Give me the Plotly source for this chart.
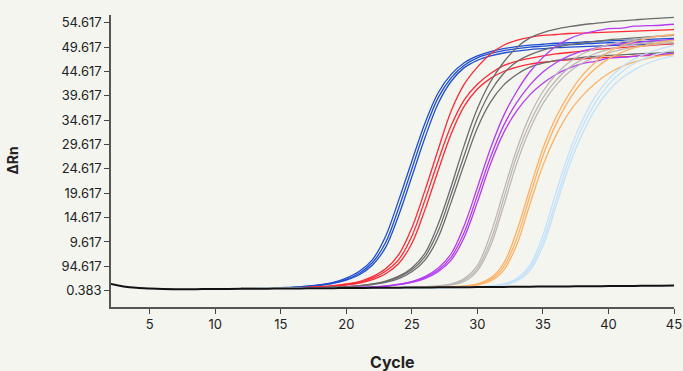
import plotly.graph_objects as go

# ---- data -------------------------------------------------------------
cycles_bg = list(range(2, 46))
baseline = [1.0, 0.5, 0.2, 0.05, -0.05, -0.08, -0.08, -0.06, -0.04, -0.02,
            0.0, 0.02, 0.04, 0.06, 0.08, 0.1, 0.12, 0.14, 0.16, 0.18,
            0.2, 0.22, 0.24, 0.26, 0.28, 0.3, 0.32, 0.34, 0.36, 0.38,
            0.4, 0.42, 0.44, 0.46, 0.48, 0.5, 0.52, 0.54, 0.56, 0.58,
            0.6, 0.62, 0.64, 0.66]

cycles = list(range(12, 46))  # 34 cycles

blue_1 = [0.1, 0.12, 0.15, 0.25, 0.33, 0.55, 0.85, 1.3, 2.2, 3.6, 6.0, 10.8, 18.2, 26.2, 34.0, 40.2, 44.0, 46.4, 47.8, 48.7, 49.3, 49.7, 50.0, 50.2, 50.4, 50.5, 50.65, 50.8, 50.9, 51.0, 51.1, 51.2, 51.3, 51.4]
blue_2 = [0.1, 0.12, 0.15, 0.22, 0.3, 0.5, 0.78, 1.2, 1.95, 3.2, 5.4, 9.5, 16.6, 24.6, 32.6, 39.2, 43.3, 45.9, 47.4, 48.3, 48.9, 49.3, 49.6, 49.8, 50.0, 50.1, 50.25, 50.4, 50.5, 50.6, 50.7, 50.8, 50.9, 51.0]
blue_3 = [0.1, 0.12, 0.15, 0.2, 0.28, 0.45, 0.72, 1.1, 1.8, 2.9, 4.9, 8.5, 15.1, 23.0, 31.0, 38.0, 42.6, 45.4, 46.9, 47.8, 48.4, 48.8, 49.1, 49.3, 49.5, 49.6, 49.7, 49.8, 49.9, 50.0, 50.1, 50.2, 50.3, 50.4]

red_1 = [0.1, 0.12, 0.15, 0.2, 0.25, 0.3, 0.45, 0.65, 1.0, 1.5, 2.5, 4.1, 7.0, 12.5, 20.2, 28.5, 36.5, 42.0, 45.5, 48.2, 50.0, 51.0, 51.6, 52.0, 52.2, 52.4, 52.5, 52.6, 52.7, 52.8, 52.9, 53.0, 53.1, 53.2]
red_2 = [0.1, 0.12, 0.15, 0.18, 0.22, 0.28, 0.4, 0.6, 0.9, 1.35, 2.2, 3.6, 6.0, 10.8, 18.2, 26.2, 33.5, 38.8, 42.0, 44.2, 45.8, 46.7, 47.3, 47.8, 48.2, 48.5, 48.8, 49.1, 49.3, 49.5, 49.7, 49.9, 50.1, 50.3]
red_3 = [0.1, 0.12, 0.14, 0.17, 0.2, 0.25, 0.35, 0.5, 0.78, 1.15, 1.9, 3.1, 5.2, 9.3, 16.2, 24.2, 31.8, 37.5, 41.0, 43.2, 44.6, 45.5, 46.1, 46.5, 46.8, 47.0, 47.2, 47.4, 47.5, 47.6, 47.75, 47.85, 48.0, 48.1]

dgrey_1 = [0.1, 0.11, 0.13, 0.15, 0.17, 0.2, 0.25, 0.35, 0.4, 0.65, 1.0, 1.6, 2.6, 4.3, 7.3, 13.2, 21.0, 29.5, 37.0, 42.5, 46.5, 49.5, 51.5, 52.6, 53.3, 53.8, 54.2, 54.5, 54.8, 55.0, 55.2, 55.4, 55.55, 55.7]
dgrey_2 = [0.1, 0.11, 0.13, 0.15, 0.17, 0.2, 0.25, 0.32, 0.43, 0.6, 0.95, 1.45, 2.4, 3.9, 6.6, 11.8, 19.4, 27.4, 35.0, 40.5, 44.2, 46.6, 48.0, 49.0, 49.6, 50.1, 50.5, 50.8, 51.1, 51.3, 51.5, 51.7, 51.85, 52.0]
dgrey_3 = [0.1, 0.11, 0.12, 0.14, 0.16, 0.18, 0.22, 0.3, 0.4, 0.55, 0.88, 1.3, 2.1, 3.5, 5.9, 10.5, 17.8, 25.6, 33.0, 38.3, 41.8, 44.0, 45.5, 46.3, 46.9, 47.2, 47.5, 47.7, 47.9, 48.0, 48.2, 48.3, 48.45, 48.6]

purple_1 = [0.1, 0.11, 0.12, 0.13, 0.15, 0.17, 0.18, 0.2, 0.25, 0.3, 0.4, 0.6, 0.95, 1.5, 2.5, 4.2, 7.2, 13.0, 20.8, 28.8, 35.5, 40.5, 44.5, 47.5, 49.8, 51.3, 52.3, 52.9, 53.4, 53.5, 53.9, 54.0, 54.1, 54.3]
purple_2 = [0.1, 0.11, 0.12, 0.13, 0.14, 0.16, 0.17, 0.18, 0.22, 0.28, 0.36, 0.55, 0.9, 1.4, 2.3, 3.8, 6.5, 11.6, 19.2, 27.0, 33.5, 38.2, 41.8, 44.5, 46.4, 47.8, 48.8, 49.4, 50.0, 50.3, 50.5, 50.8, 51.0, 51.2]
purple_3 = [0.1, 0.11, 0.12, 0.13, 0.14, 0.15, 0.16, 0.17, 0.2, 0.26, 0.34, 0.5, 0.85, 1.3, 2.1, 3.5, 5.9, 10.6, 17.8, 25.6, 32.0, 36.5, 39.8, 42.2, 44.0, 45.3, 46.2, 46.7, 47.3, 47.5, 47.7, 48.0, 48.15, 48.3]

lgrey_1 = [0.1, 0.11, 0.12, 0.13, 0.14, 0.15, 0.16, 0.17, 0.18, 0.19, 0.2, 0.22, 0.25, 0.3, 0.45, 0.6, 1.0, 2.1, 4.8, 11.2, 20.0, 28.6, 35.5, 40.5, 44.0, 46.5, 48.2, 49.3, 50.1, 50.7, 51.2, 51.6, 51.9, 52.2]
lgrey_2 = [0.1, 0.11, 0.12, 0.13, 0.14, 0.15, 0.16, 0.17, 0.18, 0.19, 0.2, 0.22, 0.25, 0.28, 0.4, 0.55, 0.9, 1.8, 4.2, 9.8, 18.5, 27.2, 34.0, 39.2, 42.8, 45.4, 47.1, 48.3, 49.1, 49.7, 50.2, 50.5, 50.8, 51.0]
lgrey_3 = [0.1, 0.11, 0.12, 0.13, 0.14, 0.15, 0.16, 0.17, 0.18, 0.18, 0.18, 0.2, 0.23, 0.26, 0.35, 0.5, 0.8, 1.5, 3.7, 8.8, 17.0, 25.7, 32.7, 38.0, 41.8, 44.5, 46.3, 47.5, 48.4, 49.1, 49.6, 50.0, 50.3, 50.5]

orange_1 = [0.1, 0.11, 0.12, 0.13, 0.14, 0.15, 0.16, 0.17, 0.18, 0.19, 0.19, 0.2, 0.2, 0.22, 0.25, 0.3, 0.4, 0.6, 1.0, 2.2, 5.2, 11.8, 20.5, 28.8, 35.2, 40.0, 43.8, 46.5, 48.6, 49.9, 50.8, 51.4, 51.9, 52.2]
orange_2 = [0.1, 0.11, 0.12, 0.13, 0.14, 0.15, 0.16, 0.17, 0.18, 0.19, 0.19, 0.2, 0.2, 0.22, 0.24, 0.28, 0.38, 0.55, 0.9, 1.9, 4.5, 10.3, 19.0, 27.3, 33.8, 38.8, 42.5, 45.2, 47.2, 48.5, 49.5, 50.1, 50.6, 51.0]
orange_3 = [0.1, 0.11, 0.12, 0.13, 0.14, 0.15, 0.16, 0.17, 0.17, 0.18, 0.18, 0.18, 0.18, 0.2, 0.23, 0.26, 0.35, 0.5, 0.8, 1.6, 3.8, 9.0, 17.3, 25.3, 31.5, 36.2, 39.6, 42.2, 44.2, 45.6, 46.6, 47.3, 47.8, 48.1]

lblue_1 = [0.1, 0.11, 0.12, 0.13, 0.14, 0.15, 0.16, 0.17, 0.18, 0.19, 0.19, 0.2, 0.2, 0.2, 0.2, 0.22, 0.25, 0.3, 0.4, 0.6, 1.0, 2.1, 4.8, 11.0, 19.8, 28.0, 34.5, 39.5, 43.0, 45.5, 47.2, 48.4, 49.3, 50.0]
lblue_2 = [0.1, 0.11, 0.12, 0.13, 0.14, 0.15, 0.16, 0.17, 0.18, 0.19, 0.19, 0.2, 0.2, 0.2, 0.2, 0.21, 0.24, 0.28, 0.37, 0.55, 0.9, 1.8, 4.2, 9.8, 18.2, 26.6, 33.2, 38.2, 41.9, 44.5, 46.3, 47.5, 48.4, 49.0]
lblue_3 = [0.1, 0.11, 0.12, 0.13, 0.14, 0.15, 0.16, 0.17, 0.17, 0.18, 0.18, 0.18, 0.18, 0.18, 0.18, 0.2, 0.23, 0.26, 0.35, 0.5, 0.8, 1.6, 3.7, 8.8, 17.0, 25.2, 31.8, 36.9, 40.6, 43.2, 45.0, 46.3, 47.2, 47.8]

groups = [
    ("#1f4fd1", [blue_1, blue_2, blue_3]),
    ("#ff2a35", [red_1, red_2, red_3]),
    ("#6b6b6b", [dgrey_1, dgrey_2, dgrey_3]),
    ("#b43cf5", [purple_1, purple_2, purple_3]),
    ("#bdb8b4", [lgrey_1, lgrey_2, lgrey_3]),
    ("#ffb060", [orange_1, orange_2, orange_3]),
    ("#c2e1fa", [lblue_1, lblue_2, lblue_3]),
]

y_tickvals = [-0.383, 4.617, 9.617, 14.617, 19.617, 24.617, 29.617, 34.617,
              39.617, 44.617, 49.617, 54.617]
y_ticktext = ["0.383", "94.617", "9.617", "14.617", "19.617", "24.617", "29.617",
              "34.617", "39.617", "44.617", "49.617", "54.617"]
x_tickvals = [5, 10, 15, 20, 25, 30, 35, 40, 45]

# ---- figure -----------------------------------------------------------
fig = go.Figure()
for color, curves in groups:
    for vals in curves:
        fig.add_trace(go.Scatter(x=cycles, y=vals, mode="lines",
                                 line=dict(color=color, width=1.3, shape="spline"),
                                 hoverinfo="skip", showlegend=False))
fig.add_trace(go.Scatter(x=cycles_bg, y=baseline, mode="lines",
                         line=dict(color="#111111", width=2, shape="spline"),
                         hoverinfo="skip", showlegend=False))

bg = "#f5f5f0"
font_family = "Inter, Roboto, sans-serif"
axis_font = dict(family=font_family, size=13, color="#222222")
fig.update_layout(
    width=683, height=371,
    margin=dict(l=111, r=9, t=15, b=64, autoexpand=False),
    paper_bgcolor=bg, plot_bgcolor=bg,
    showlegend=False,
    xaxis=dict(range=[2.05, 45], tickvals=x_tickvals, ticks="outside", ticklen=5,
               tickcolor="#444444", showline=True, linecolor="#555555", linewidth=1.5,
               showgrid=False, zeroline=False, tickfont=axis_font, automargin=False),
    yaxis=dict(range=[-3.73, 56.2], tickvals=y_tickvals, ticktext=y_ticktext,
               ticks="outside", ticklen=5, tickcolor="#444444", showline=True,
               linecolor="#555555", linewidth=1.5, showgrid=False, zeroline=False,
               tickfont=axis_font, automargin=False),
    annotations=[
        dict(text="<b>Cycle</b>", xref="paper", yref="paper", x=0.5, y=-0.188,
             xanchor="center", yanchor="middle", showarrow=False,
             font=dict(family=font_family, size=16, color="#222222")),
        dict(text="<b>ΔRn</b>", xref="paper", yref="paper", x=-0.175, y=0.503,
             xanchor="center", yanchor="middle", showarrow=False, textangle=-90,
             font=dict(family=font_family, size=14, color="#222222")),
    ],
)

fig.write_html("out.html", config={"displayModeBar": False, "responsive": False})

# remove the default page margin so the figure fills the window
with open("out.html", "r", encoding="utf-8") as f:
    html = f.read()
html = html.replace(
    "<head>",
    "<head><style>html,body{margin:0;padding:0;overflow:hidden;background:#f5f5f0;}</style>",
    1)
with open("out.html", "w", encoding="utf-8") as f:
    f.write(html)
